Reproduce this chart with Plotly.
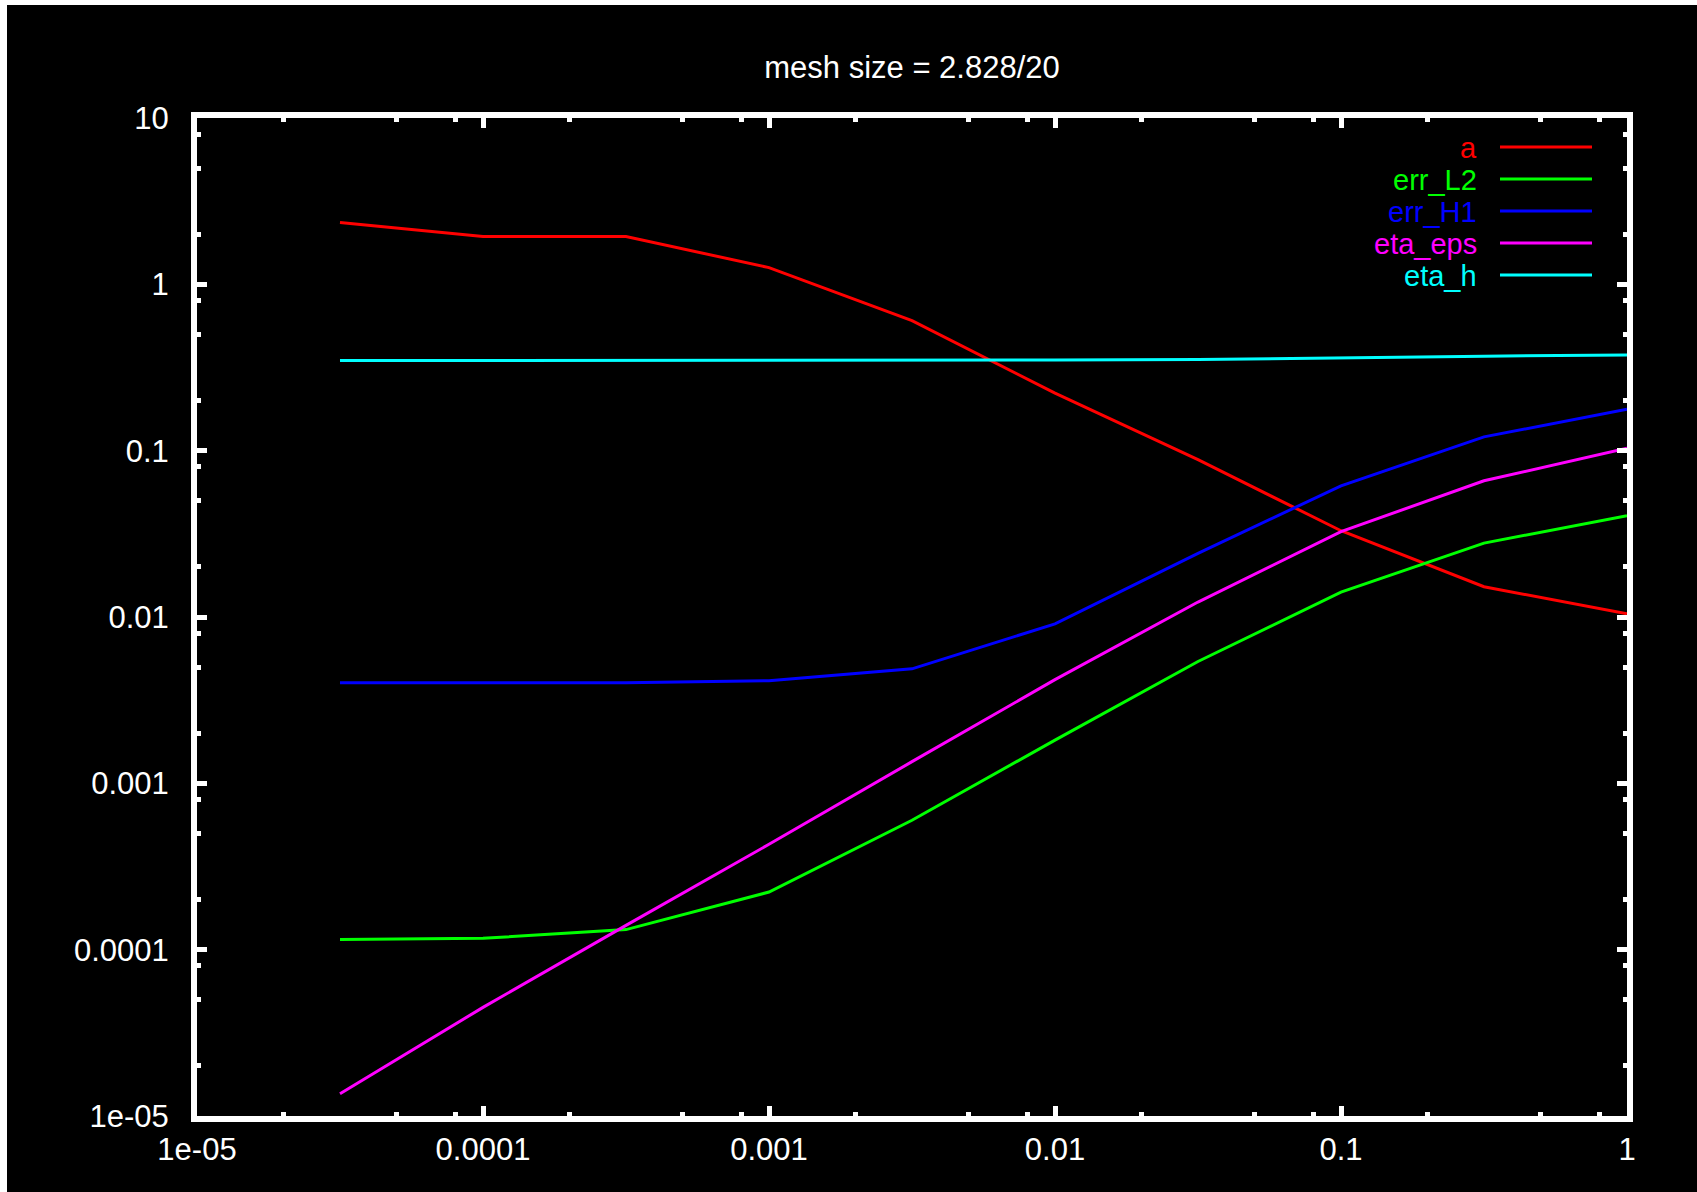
import plotly.graph_objects as go

# ---- data ----
x_vals = [3.162e-5, 1e-4, 3.162e-4, 1e-3, 3.162e-3, 1e-2, 3.162e-2, 1e-1, 3.162e-1, 1.0]
a_vals = [2.35, 1.94, 1.94, 1.26, 0.605, 0.222, 0.0883, 0.0330, 0.0152, 0.01047]
err_L2 = [1.15e-4, 1.17e-4, 1.32e-4, 2.22e-4, 6.0e-4, 1.82e-3, 5.4e-3, 0.0141, 0.0278, 0.0407]
err_H1 = [0.00402, 0.00402, 0.00403, 0.00414, 0.00488, 0.0091, 0.0241, 0.0615, 0.121, 0.1775]
eta_eps = [1.36e-5, 4.5e-5, 1.4e-4, 4.3e-4, 1.35e-3, 4.2e-3, 0.0123, 0.0326, 0.0659, 0.1034]
eta_h = [0.348, 0.348, 0.348, 0.349, 0.350, 0.351, 0.353, 0.363, 0.370, 0.376]

series_names = ["a", "err_L2", "err_H1", "eta_eps", "eta_h"]
series_values = [a_vals, err_L2, err_H1, eta_eps, eta_h]
series_colors = ["#ff0000", "#00ff00", "#0000ff", "#ff00ff", "#00ffff"]

x_tickvals = [1e-5, 1e-4, 1e-3, 1e-2, 1e-1, 1]
x_ticktext = ["1e-05", "0.0001", "0.001", "0.01", "0.1", "1"]
y_tickvals = [1e-5, 1e-4, 1e-3, 1e-2, 1e-1, 1, 10]
y_ticktext = ["1e-05", "0.0001", "0.001", "0.01", "0.1", "1", "10"]
minor_mult = [2, 5, 8]

title_text = "mesh size = 2.828/20"

# ---- layout geometry (pixels) ----
W, H = 1690, 1187
ML, MR, MT, MB = 190, 70, 113, 76
PW, PH = W - ML - MR, H - MT - MB
OFFX, OFFY = 7, 5  # page offset


def px_x(px):
    return (px - OFFX - ML) / PW


def px_y(py):
    return 1 - (py - OFFY - MT) / PH


FONT = "Liberation Sans, Arial, Helvetica, sans-serif"
FS = 31
FS_LEG = 29

fig = go.Figure()
for name, vals, col in zip(series_names, series_values, series_colors):
    fig.add_trace(go.Scatter(x=x_vals, y=vals, mode="lines", name=name,
                             line=dict(color=col, width=3), showlegend=False))

x_minor = [m * d for d in x_tickvals[:-1] for m in minor_mult]
y_minor = [m * d for d in y_tickvals[:-1] for m in minor_mult]

axis_common = dict(
    showline=True, linecolor="white", linewidth=6, mirror="ticks",
    ticks="inside", ticklen=10, tickwidth=5, tickcolor="white",
    showgrid=False, zeroline=False,
    tickfont=dict(family=FONT, size=FS, color="white"),
)

fig.update_xaxes(type="log", range=[-5, 0], tickmode="array",
                 tickvals=x_tickvals, ticktext=x_ticktext, ticklabelstandoff=1,
                 minor=dict(tickmode="array", tickvals=x_minor, ticks="inside",
                            ticklen=4, tickwidth=5, tickcolor="white", showgrid=False),
                 **axis_common)
fig.update_yaxes(type="log", range=[-5, 1], tickmode="array",
                 tickvals=y_tickvals, ticktext=y_ticktext, ticklabelstandoff=16,
                 minor=dict(tickmode="array", tickvals=y_minor, ticks="inside",
                            ticklen=4, tickwidth=5, tickcolor="white", showgrid=False),
                 **axis_common)

# legend drawn gnuplot-style: right-aligned text, sample line to the right
annotations = []
shapes = []
for i, (name, col) in enumerate(zip(series_names, series_colors)):
    row_y = 148 + 32 * i
    annotations.append(dict(x=px_x(1479), y=px_y(row_y), xref="paper", yref="paper",
                            text=name, showarrow=False, xanchor="right", yanchor="middle",
                            font=dict(family=FONT, size=FS_LEG, color=col)))
    shapes.append(dict(type="line", xref="paper", yref="paper",
                       x0=px_x(1500), x1=px_x(1592), y0=px_y(row_y - 1), y1=px_y(row_y - 1),
                       line=dict(color=col, width=3)))

fig.update_layout(
    width=W, height=H,
    margin=dict(l=ML, r=MR, t=MT, b=MB, pad=0),
    paper_bgcolor="black", plot_bgcolor="black",
    title=dict(text=title_text, x=px_x(912), xref="paper", xanchor="center",
               y=1 - (67 - OFFY) / H, yref="container", yanchor="middle",
               font=dict(family=FONT, size=FS, color="white")),
    annotations=annotations, shapes=shapes,
    showlegend=False,
)

fig.write_html("out.html", post_script=(
    "document.body.style.margin='5px 0 0 7px';"
    "document.body.style.background='white';"
    "document.body.style.overflow='hidden';"
    "document.documentElement.style.overflow='hidden';"
))
